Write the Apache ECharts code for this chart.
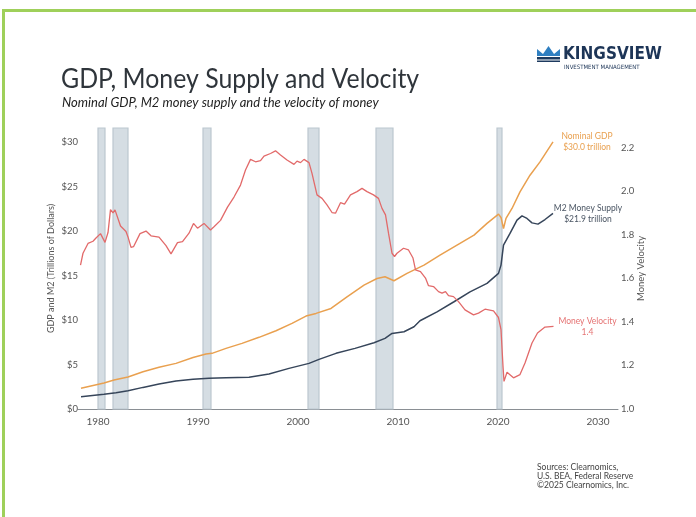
<!DOCTYPE html>
<html>
<head>
<meta charset="utf-8">
<script src="https://cdn.jsdelivr.net/npm/echarts@6/dist/echarts.min.js"></script>
<style>
  html, body { margin: 0; padding: 0; background: #fff; }
  #chart { width: 696px; height: 517px; }
</style>
</head>
<body>
<div id="chart"></div>
<script>
// values: [year, value]
const gdp = [
  [1978.3, 2.33], [1980.6, 2.92], [1981.6, 3.26], [1983.0, 3.6], [1984.5, 4.19],
  [1986.1, 4.69], [1987.8, 5.13], [1989.5, 5.8], [1990.8, 6.18], [1991.4, 6.26],
  [1992.8, 6.82], [1994.4, 7.38], [1996.1, 8.06], [1997.8, 8.8], [1999.4, 9.63],
  [2000.8, 10.45], [2001.8, 10.75], [2003.3, 11.31], [2004.9, 12.62], [2006.6, 13.93],
  [2007.9, 14.68], [2008.7, 14.87], [2009.6, 14.42], [2010.9, 15.25], [2012.6, 16.18],
  [2014.2, 17.3], [2015.9, 18.43], [2017.6, 19.55], [2018.9, 20.87], [2020.05, 21.91],
  [2020.3, 21.54], [2020.55, 20.3], [2020.8, 21.43], [2021.4, 22.55], [2022.2, 24.42],
  [2023.2, 26.29], [2024.2, 27.79], [2025.5, 30.03]
];
const m2 = [
  [1978.3, 1.38], [1980.6, 1.65], [1981.8, 1.83], [1983.0, 2.06], [1984.5, 2.43],
  [1986.1, 2.81], [1987.8, 3.15], [1989.5, 3.34], [1991.1, 3.45], [1992.8, 3.52],
  [1995.1, 3.56], [1997.1, 3.93], [1999.1, 4.57], [2001.1, 5.13], [2002.1, 5.58],
  [2003.8, 6.26], [2005.7, 6.82], [2007.6, 7.45], [2008.7, 7.94], [2009.4, 8.5],
  [2010.6, 8.69], [2011.6, 9.25], [2012.2, 9.92], [2013.9, 10.93], [2015.6, 12.06],
  [2017.2, 13.18], [2018.9, 14.12], [2020.05, 15.25], [2020.3, 16.18], [2020.55, 18.43],
  [2021.2, 19.74], [2021.9, 21.24], [2022.4, 21.72], [2022.9, 21.43], [2023.4, 20.93],
  [2024.0, 20.79], [2024.7, 21.31], [2025.5, 21.99]
];
const velocity = [
  [1978.25, 1.66], [1978.5, 1.715], [1979.0, 1.76], [1979.5, 1.77], [1979.8, 1.785],
  [1980.25, 1.805], [1980.7, 1.765], [1981.0, 1.81], [1981.25, 1.915], [1981.5, 1.9],
  [1981.7, 1.914], [1982.25, 1.84], [1982.8, 1.815], [1983.0, 1.79], [1983.3, 1.742],
  [1983.55, 1.745], [1984.2, 1.805], [1984.8, 1.817], [1985.3, 1.795], [1986.1, 1.789],
  [1986.8, 1.75], [1987.3, 1.712], [1987.95, 1.764], [1988.45, 1.768], [1989.1, 1.807],
  [1989.55, 1.852], [1989.95, 1.83], [1990.6, 1.852], [1991.25, 1.822], [1991.6, 1.837],
  [1992.25, 1.866], [1992.95, 1.927], [1993.6, 1.973], [1994.25, 2.028], [1994.75, 2.097],
  [1995.25, 2.146], [1995.75, 2.135], [1996.25, 2.14], [1996.6, 2.161], [1997.25, 2.173],
  [1997.75, 2.185], [1998.25, 2.166], [1998.9, 2.143], [1999.6, 2.123], [1999.9, 2.138],
  [2000.25, 2.131], [2000.6, 2.146], [2001.1, 2.131], [2001.4, 2.082], [2001.9, 1.983],
  [2002.4, 1.967], [2002.9, 1.937], [2003.4, 1.902], [2003.75, 1.899], [2004.25, 1.947],
  [2004.65, 1.941], [2005.25, 1.983], [2005.9, 1.998], [2006.4, 2.013], [2006.9, 1.998],
  [2007.55, 1.983], [2008.05, 1.967], [2008.4, 1.921], [2008.75, 1.891], [2009.05, 1.807],
  [2009.4, 1.715], [2009.65, 1.70], [2009.9, 1.715], [2010.55, 1.738], [2011.05, 1.73],
  [2011.5, 1.693], [2011.75, 1.639], [2012.25, 1.631], [2012.75, 1.601], [2013.05, 1.566],
  [2013.55, 1.562], [2014.05, 1.539], [2014.4, 1.532], [2014.75, 1.539], [2015.05, 1.52],
  [2015.55, 1.516], [2016.05, 1.493], [2016.7, 1.455], [2017.55, 1.432], [2018.05, 1.44],
  [2018.7, 1.458], [2019.55, 1.45], [2020.05, 1.42], [2020.3, 1.364], [2020.5, 1.196],
  [2020.6, 1.127], [2020.9, 1.169], [2021.55, 1.143], [2022.2, 1.158], [2022.7, 1.211],
  [2023.4, 1.303], [2023.95, 1.349], [2024.7, 1.376], [2025.55, 1.379]
];
// recession periods [start, end]
const recessions = [
  [1980.0, 1980.7], [1981.5, 1983.0], [1990.5, 1991.3],
  [2001.0, 2002.1], [2007.8, 2009.5], [2019.9, 2020.4]
];
const yearTicks = [1980, 1990, 2000, 2010, 2020, 2030];
const dollarTicks = [0, 5, 10, 15, 20, 25, 30];
const velocityTicks = [1.0, 1.2, 1.4, 1.6, 1.8, 2.0, 2.2];
const sources = ['Sources: Clearnomics,', 'U.S. BEA, Federal Reserve', '\u00a92025 Clearnomics, Inc.'];

const FONT = 'Lato, "Open Sans", sans-serif';
const chart = echarts.init(document.getElementById('chart'));

chart.setOption({
  backgroundColor: '#fff',
  animation: false,
  grid: { left: 78, right: 78, top: 128, bottom: 108 },
  xAxis: {
    type: 'value', min: 1978, max: 2032,
    axisLine: { lineStyle: { color: '#8a8f94', width: 1 } },
    axisTick: { show: false },
    splitLine: { show: false },
    axisLabel: { customValues: yearTicks, formatter: v => String(v), color: '#555', fontSize: 10, fontFamily: FONT, margin: 8 }
  },
  yAxis: [{
    type: 'value', min: 0, max: 31.6,
    name: 'GDP and M2 (Trillions of Dollars)', nameLocation: 'middle', nameGap: 22, nameMoveOverlap: false,
    nameTextStyle: { color: '#555', fontSize: 9, fontFamily: FONT },
    axisLine: { show: false }, axisTick: { show: false }, splitLine: { show: false },
    axisLabel: { customValues: dollarTicks, formatter: v => '$' + v, color: '#555', fontSize: 9.5, fontFamily: FONT, margin: 0 }
  }, {
    type: 'value', min: 1.0, max: 2.29, position: 'right',
    name: 'Money Velocity', nameLocation: 'middle', nameGap: 18, nameMoveOverlap: false,
    nameTextStyle: { color: '#555', fontSize: 9.5, fontFamily: FONT },
    axisLine: { show: false }, axisTick: { show: false }, splitLine: { show: false },
    axisLabel: { customValues: velocityTicks, formatter: v => v.toFixed(1), color: '#555', fontSize: 9.5, fontFamily: FONT, margin: 3 }
  }],
  series: [{
    type: 'custom', z: 1, silent: true,
    data: recessions,
    renderItem: (params, api) => {
      const p0 = api.coord([api.value(0), 0]);
      const p1 = api.coord([api.value(1), 0]);
      const top = params.coordSys.y;
      const h = params.coordSys.height;
      return {
        type: 'rect',
        shape: { x: p0[0], y: top, width: p1[0] - p0[0], height: h },
        style: { fill: '#d5dde3', stroke: '#bcc7cf', lineWidth: 1.2 }
      };
    }
  }, {
    name: 'Nominal GDP', type: 'line', z: 3, data: gdp, yAxisIndex: 0,
    showSymbol: false, lineStyle: { color: '#e9a04f', width: 1.5 },
    endLabel: { show: true, formatter: 'Nominal GDP\n$30.0 trillion', color: '#e9a04f',
      fontSize: 8.5, lineHeight: 11, fontFamily: FONT, align: 'center', distance: 34 }
  }, {
    name: 'M2 Money Supply', type: 'line', z: 3, data: m2, yAxisIndex: 0,
    showSymbol: false, lineStyle: { color: '#36455a', width: 1.5 },
    endLabel: { show: true, formatter: 'M2 Money Supply\n$21.9 trillion', color: '#4a5563',
      fontSize: 8.5, lineHeight: 11, fontFamily: FONT, align: 'center', distance: 35 }
  }, {
    name: 'Money Velocity', type: 'line', z: 3, data: velocity, yAxisIndex: 1,
    showSymbol: false, lineStyle: { color: '#e26a6a', width: 1.3 },
    endLabel: { show: true, formatter: 'Money Velocity\n1.4', color: '#e57373',
      fontSize: 8.5, lineHeight: 11, fontFamily: FONT, align: 'center', distance: 34 }
  }],
  graphic: [
    { type: 'rect', shape: { x: 3.5, y: 10.5, width: 720, height: 540 },
      style: { fill: 'none', stroke: '#9fd05a', lineWidth: 3 } },
    { type: 'text', x: 61, y: 79, scaleX: 0.92,
      style: { x: 0, y: 0, text: 'GDP, Money Supply and Velocity',
        font: '27px ' + FONT, fill: '#2f353b', textVerticalAlign: 'middle' } },
    { type: 'text', style: { x: 62, y: 103, text: 'Nominal GDP, M2 money supply and the velocity of money',
      font: 'italic 13px ' + FONT, fill: '#222', textVerticalAlign: 'middle' } },
    // logo
    { type: 'polygon', shape: { points: [[537, 49], [543, 54], [548.5, 46], [554, 54], [560, 49], [560, 56], [537, 56]] },
      style: { fill: '#2f7fc1' } },
    { type: 'rect', shape: { x: 537, y: 57, width: 23, height: 2.5 }, style: { fill: '#1d3a5f' } },
    { type: 'rect', shape: { x: 537, y: 60.5, width: 23, height: 1.5 }, style: { fill: '#1d3a5f' } },
    { type: 'text', style: { x: 563, y: 55, text: 'KINGSVIEW', font: 'bold 17px "DejaVu Sans Condensed", sans-serif',
      fill: '#1d3557', textVerticalAlign: 'middle' } },
    { type: 'text', style: { x: 564, y: 67, text: 'INVESTMENT MANAGEMENT', font: '6px "DejaVu Sans Condensed", sans-serif',
      fill: '#1d3557', textVerticalAlign: 'middle' } },
    // sources
    ...sources.map((t, i) => ({ type: 'text', style: { x: 537, y: 467 + i * 9, text: t,
      font: '8.5px ' + FONT, fill: '#444', textVerticalAlign: 'middle' } }))
  ]
});
</script>
</body>
</html>
